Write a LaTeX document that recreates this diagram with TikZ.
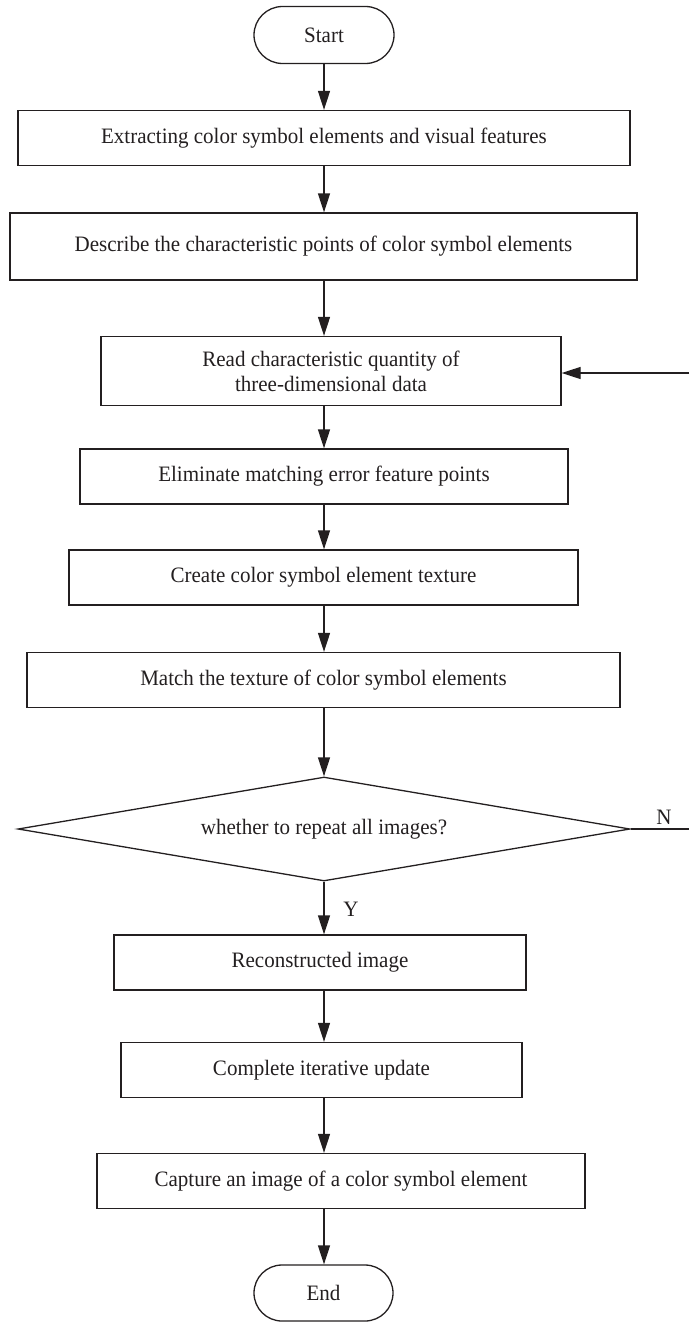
\documentclass[tikz,border=0pt]{standalone}
\usepackage{fontspec}
\setmainfont[FakeStretch=0.955]{Liberation Serif}
\usetikzlibrary{shapes.geometric,shapes.misc,arrows.meta}
\definecolor{ink}{RGB}{35,31,32}
\begin{document}
\begin{tikzpicture}[x=1pt,y=-1pt,
  every node/.style={font=\fontsize{22}{25}\selectfont, text=ink},
  procbox/.style={draw=ink, line width=1.3pt, rectangle, inner sep=0pt, minimum height=55pt, align=center},
  termbox/.style={draw=ink, line width=1.3pt, rounded rectangle, inner sep=0pt, minimum width=140pt, minimum height=57pt},
  decbox/.style={draw=ink, line width=1.3pt, diamond, shape aspect=6, inner sep=0pt, minimum width=612pt, minimum height=104pt},
  arr/.style={draw=ink, line width=1.3pt, -{Triangle[length=19pt,width=12pt]}},
  plain/.style={draw=ink, line width=1.3pt}
]
\useasboundingbox (0,0) rectangle (689,1322);
\coordinate (ax) at (324,0);
\node[termbox] (start) at (324,35) {Start};
\node[procbox, minimum width=612pt] (b1) at (324,138) {Extracting color symbol elements and visual features};
\node[procbox, minimum width=627pt, minimum height=67pt] (b2) at (323.5,246.5) {Describe the characteristic points of color symbol elements};
\node[procbox, minimum width=460pt, minimum height=69pt] (b3) at (331,371) {Read characteristic quantity of\\three-dimensional data};
\node[procbox, minimum width=488pt] (b4) at (324,476.5) {Eliminate matching error feature points};
\node[procbox, minimum width=509pt] (b5) at (323.5,577.5) {Create color symbol element texture};
\node[procbox, minimum width=593pt] (b6) at (323.5,680) {Match the texture of color symbol elements};
\node[decbox] (dec) at (324,829) {whether to repeat all images?};
\node[procbox, minimum width=412pt] (b7) at (320,962.5) {Reconstructed image};
\node[procbox, minimum width=401pt] (b8) at (321.5,1070) {Complete iterative update};
\node[procbox, minimum width=488pt] (b9) at (341,1181) {Capture an image of a color symbol element};
\node[termbox, minimum width=139pt, minimum height=56pt] (end) at (323.5,1293) {End};
\node (ylab) at (351,909) {Y};
\node (nlab) at (664,817) {N};
\coordinate (nr) at (689,829);
\coordinate (rr) at (689,373);

\draw[arr] (start.south -| ax) -- (b1.north -| ax);
\draw[arr] (b1.south -| ax) -- (b2.north -| ax);
\draw[arr] (b2.south -| ax) -- (b3.north -| ax);
\draw[arr] (b3.south -| ax) -- (b4.north -| ax);
\draw[arr] (b4.south -| ax) -- (b5.north -| ax);
\draw[arr] (b5.south -| ax) -- (b6.north -| ax);
\draw[arr] (b6.south -| ax) -- (dec.north);
\draw[arr] (dec.south) -- (b7.north -| ax);
\draw[arr] (b7.south -| ax) -- (b8.north -| ax);
\draw[arr] (b8.south -| ax) -- (b9.north -| ax);
\draw[arr] (b9.south -| ax) -- (end.north -| ax);
\draw[plain] (dec.east) -- (nr);
\draw[arr] (rr) -- (b3.east |- rr);
\end{tikzpicture}
\end{document}
